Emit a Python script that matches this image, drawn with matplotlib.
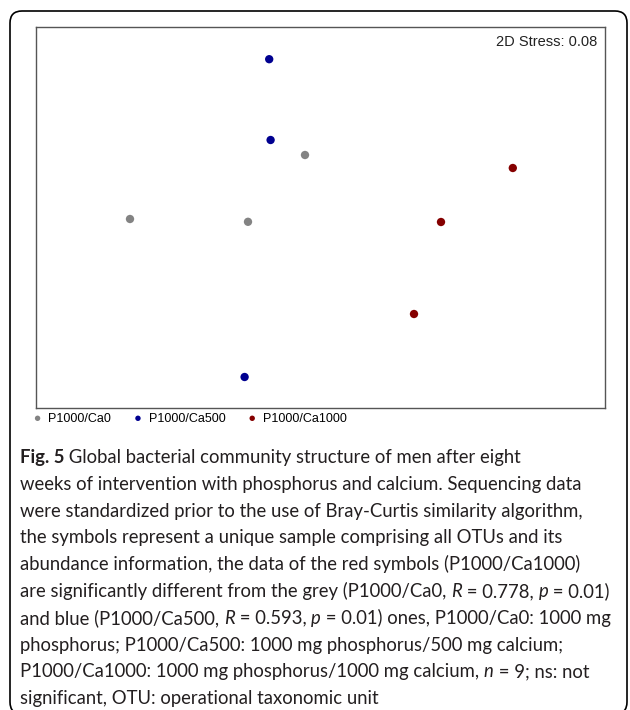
import matplotlib
matplotlib.use("Agg")
import matplotlib.pyplot as plt
from matplotlib.patches import FancyBboxPatch

# NMDS coordinates (arbitrary units)
groups = ["P1000/Ca0", "P1000/Ca500", "P1000/Ca1000"]
colors = ["#838383", "#000090", "#850000"]
ca0_x = [-0.95, -0.36, -0.075]
ca0_y = [-0.01, -0.024, 0.31]
ca500_x = [-0.254, -0.247, -0.377]
ca500_y = [0.789, 0.385, -0.80]
ca1000_x = [0.964, 0.605, 0.47]
ca1000_y = [0.245, -0.025, -0.485]
stress = 0.08

caption = [
    [("Fig. 5", "b"), (" Global bacterial community structure of men after eight", "n")],
    [("weeks of intervention with phosphorus and calcium. Sequencing data", "n")],
    [("were standardized prior to the use of Bray-Curtis similarity algorithm,", "n")],
    [("the symbols represent a unique sample comprising all OTUs and its", "n")],
    [("abundance information, the data of the red symbols (P1000/Ca1000)", "n")],
    [("are significantly different from the grey (P1000/Ca0, ", "n"), ("R", "i"),
     (" = 0.778, ", "n"), ("p", "i"), (" = 0.01)", "n")],
    [("and blue (P1000/Ca500, ", "n"), ("R", "i"), (" = 0.593, ", "n"), ("p", "i"),
     (" = 0.01) ones, P1000/Ca0: 1000 mg", "n")],
    [("phosphorus; P1000/Ca500: 1000 mg phosphorus/500 mg calcium;", "n")],
    [("P1000/Ca1000: 1000 mg phosphorus/1000 mg calcium, ", "n"), ("n", "i"),
     (" = 9; ns: not", "n")],
    [("significant, OTU: operational taxonomic unit", "n")],
]

W, H = 630, 710
fig = plt.figure(figsize=(W / 100, H / 100), dpi=100)

# outer rounded frame
frame = FancyBboxPatch((10, -4), 617, H - 11 + 4, boxstyle="round,pad=0,rounding_size=12",
                       transform=None, fill=False, edgecolor="black", lw=1.2)
fig.patches.append(frame)

ax = fig.add_axes([36 / W, 1 - 408 / H, 569 / W, 381 / H])
for xs, ys, lab, c in zip([ca0_x, ca500_x, ca1000_x], [ca0_y, ca500_y, ca1000_y], groups, colors):
    ax.scatter(xs, ys, s=36, color=c, label=lab, edgecolors="none")
ax.set_xlim(-1.42, 1.425)
ax.set_ylim(-0.955, 0.95)
ax.set_xticks([])
ax.set_yticks([])
for sp in ax.spines.values():
    sp.set_color("#555555")
    sp.set_linewidth(1.0)

ax.text(0.986, 0.96, f"2D Stress: {stress:.2f}", transform=ax.transAxes, ha="right", va="center",
        fontsize=10.5, family="Liberation Sans", color="#222222")

ax.legend(loc="upper left", bbox_to_anchor=(-0.006, -0.012), ncol=3, frameon=False,
          prop={"family": "Liberation Sans", "size": 9}, handlelength=0.8, handletextpad=0.45,
          columnspacing=1.75, borderpad=0, borderaxespad=0, markerscale=0.65)

# caption, drawn segment by segment
fam = "Lato"
r = fig.canvas.get_renderer()
styles = {"n": {}, "b": {"fontweight": "bold"}, "i": {"fontstyle": "italic"}}


def draw_line(segs, x0, yb, size, draw=True):
    x = x0
    for s, st in segs:
        t = fig.text(x / W, 1 - yb / H, s, fontsize=size, family=fam, color="#231f20",
                     va="baseline", ha="left", transform=fig.transFigure, **styles[st])
        bb = t.get_window_extent(r)
        x += bb.width
        if not draw:
            t.remove()
    return x - x0


base = 12.0
widest = max(draw_line(segs, 0, -100, base, draw=False) for segs in caption)
size = base * 590 / widest
for i, segs in enumerate(caption):
    draw_line(segs, 20, 463 + i * 26.8, size)

fig.savefig("out.png", dpi=100)
